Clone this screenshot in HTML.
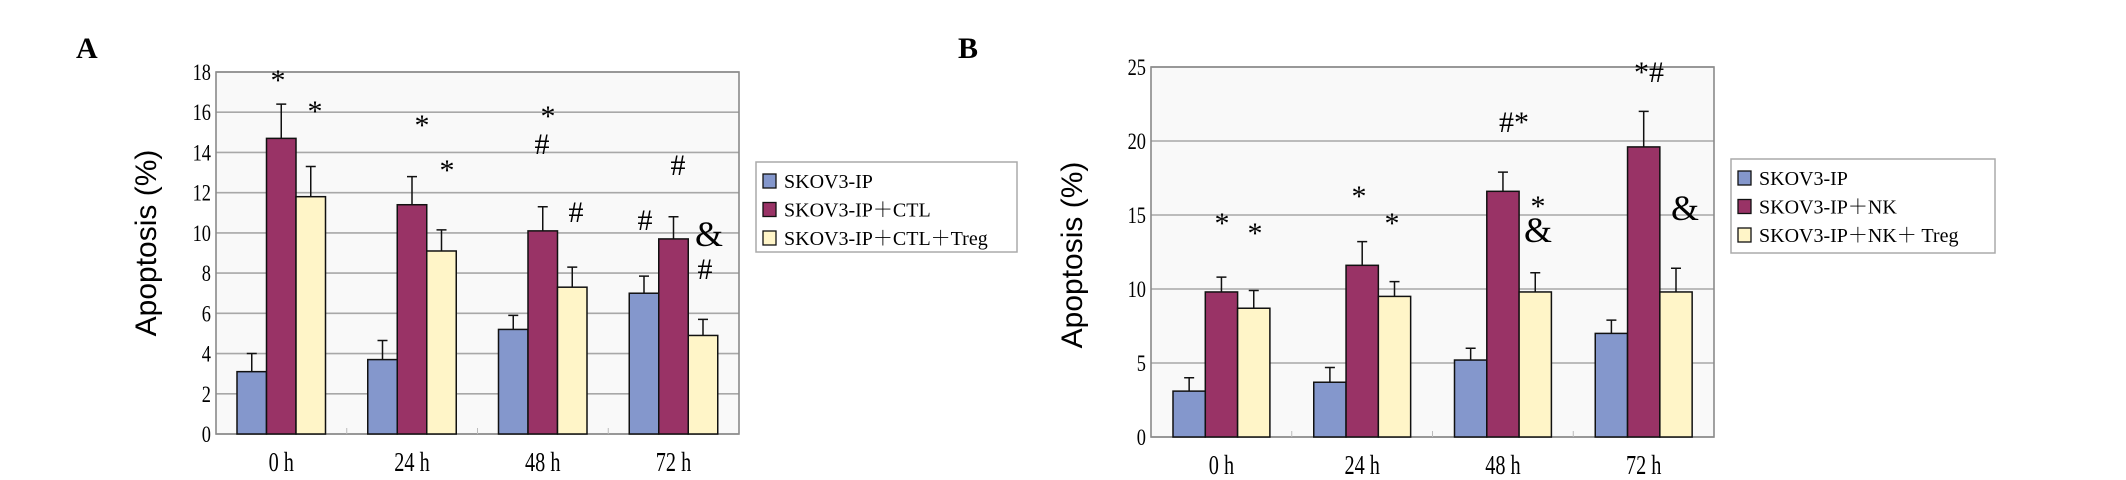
<!DOCTYPE html>
<html><head><meta charset="utf-8">
<style>
html,body{margin:0;padding:0;background:#fff;}
svg{display:block;}
text{font-family:"Liberation Serif","Noto Serif CJK SC",serif;fill:#000;}
</style></head>
<body>
<svg id="fig" width="2126" height="480" viewBox="0 0 2126 480" xmlns="http://www.w3.org/2000/svg"></svg>
<script>
const categories = ["0 h","24 h","48 h","72 h"];
// Panel A
const aSeriesNames = ["SKOV3-IP","SKOV3-IP\uFF0BCTL","SKOV3-IP\uFF0BCTL\uFF0BTreg"];
const aBlue = [3.1,3.7,5.2,7.0];
const aBlueErr = [4.0,4.65,5.9,7.85];
const aPurple = [14.7,11.4,10.1,9.7];
const aPurpleErr = [16.4,12.8,11.3,10.8];
const aYellow = [11.8,9.1,7.3,4.9];
const aYellowErr = [13.3,10.15,8.3,5.7];
const aTicks = [0,2,4,6,8,10,12,14,16,18];
// Panel B
const bSeriesNames = ["SKOV3-IP","SKOV3-IP\uFF0BNK","SKOV3-IP\uFF0BNK\uFF0B Treg"];
const bBlue = [3.1,3.7,5.2,7.0];
const bBlueErr = [4.0,4.7,6.0,7.9];
const bPurple = [9.8,11.6,16.6,19.6];
const bPurpleErr = [10.8,13.2,17.9,22.0];
const bYellow = [8.7,9.5,9.8,9.8];
const bYellowErr = [9.9,10.5,11.1,11.4];
const bTicks = [0,5,10,15,20,25];

const NS="http://www.w3.org/2000/svg";
const svg=document.getElementById('fig');
const colors=["#8497cc","#993366","#fff5c8"];
function mk(tag,attrs,parent){const e=document.createElementNS(NS,tag);for(const k in attrs)e.setAttribute(k,attrs[k]);(parent||svg).appendChild(e);return e;}

function panel(cfg){
  const g=mk('g',{});
  
  
  const {L,R,T,B,max}=cfg;
  const y=v=>B-(v/max)*(B-T);
  const bg=mk('rect',{x:L,y:T,width:R-L,height:B-T,fill:"#f9f9f9"},g);
  
  
  cfg.ticks.forEach(t=>{
    const gl=mk('line',{x1:L,x2:R,y1:y(t),y2:y(t),stroke:"#a8a8a8","stroke-width":1.6},g);
    
    
    const tl=mk('text',{x:0,y:0,"font-size":23,"text-anchor":"end",transform:`translate(${cfg.tickX},${y(t)+8}) scale(0.8,1)`},g);
    tl.textContent=t;
    
    
  });
  const fr=mk('rect',{x:L,y:T,width:R-L,height:B-T,fill:"none",stroke:"#8a8a8a","stroke-width":1.6},g);
  
  
  const step=(R-L)/categories.length;
  const bw=cfg.bw;
  categories.forEach((c,i)=>{
    const gs=L+i*step+cfg.off;
    if(i>0){const tk=mk('line',{x1:L+i*step,x2:L+i*step,y1:B-6,y2:B,stroke:"#bbb","stroke-width":1},g);
      }
    cfg.series.forEach((s,j)=>{
      const x=gs+j*bw, v=s.v[i], e=s.e[i];
      const r=mk('rect',{x:x,y:y(v),width:bw,height:B-y(v),fill:colors[j],stroke:"#111","stroke-width":1.5},g);
      
      
      const cx=x+bw/2;
      const eb=mk('path',{d:`M${cx},${y(v)} V${y(e)} M${cx-5},${y(e)} H${cx+5}`,stroke:"#111","stroke-width":1.5,fill:"none"},g);
      
      
    });
    const xl=mk('text',{x:0,y:0,"font-size":27,"text-anchor":"middle",transform:`translate(${gs+1.5*bw},${B+37}) scale(0.75,1)`},g);
    xl.textContent=c;
    
    
  });
  const yt=mk('text',{x:0,y:0,"font-size":30,"text-anchor":"middle",transform:`translate(${cfg.titleX},${cfg.titleY}) rotate(-90)`,style:"font-family:'Liberation Sans',sans-serif"},g);
  yt.textContent="Apoptosis (%)";
  
  
  cfg.marks.forEach(m=>{
    const t=mk('text',{x:m[1],y:m[2],"font-size":m[0]=='&'?36:30,"text-anchor":"middle"},g);
    t.textContent=m[0];
    
    
  });
  const lg=cfg.legend;
  const lb=mk('rect',{x:lg.x,y:lg.y,width:lg.w,height:lg.h,fill:"#fff",stroke:"#aaa","stroke-width":1.5},g);
  
  
  cfg.names.forEach((n,j)=>{
    const by=lg.y+26+j*28.5;
    const sq=mk('rect',{x:lg.x+7,y:by-14,width:13,height:14,fill:colors[j],stroke:"#111","stroke-width":1.3},g);
    
    
    const lt=mk('text',{x:lg.x+28,y:by,"font-size":20},g);
    lt.textContent=n;
    
    
  });
  const pl=mk('text',{x:cfg.letter[1],y:cfg.letter[2],"font-size":30,"font-weight":"bold"},g);
  pl.textContent=cfg.letter[0];
  
  
}

panel({name:'panel-a',L:216,R:739,T:72,B:434,max:18,ticks:aTicks,tickX:211,bw:29.5,off:21,
  series:[{key:'skov3',v:aBlue,e:aBlueErr},{key:'ctl',v:aPurple,e:aPurpleErr},{key:'treg',v:aYellow,e:aYellowErr}],
  titleX:156,titleY:243,names:aSeriesNames,legend:{x:756,y:162,w:261,h:90},letter:['A',76,58],
  marks:[['*',278,90],['*',315,121],['*',422,135],['*',447,180],['*',548,126],['#',542,154],['#',576,222],['#',678,175],['#',645,230],['&',709,246],['#',705,279]]});

panel({name:'panel-b',L:1151,R:1714,T:67,B:437,max:25,ticks:bTicks,tickX:1146,bw:32.3,off:22,
  series:[{key:'skov3',v:bBlue,e:bBlueErr},{key:'nk',v:bPurple,e:bPurpleErr},{key:'treg',v:bYellow,e:bYellowErr}],
  titleX:1082,titleY:255,names:bSeriesNames,legend:{x:1731,y:159,w:264,h:94},letter:['B',958,58],
  marks:[['*',1222,233],['*',1255,243],['*',1359,206],['*',1392,233],['#*',1514,132],['*',1538,216],['&',1538,242],['*#',1649,82],['&',1685,220]]});
</script>
</body></html>
